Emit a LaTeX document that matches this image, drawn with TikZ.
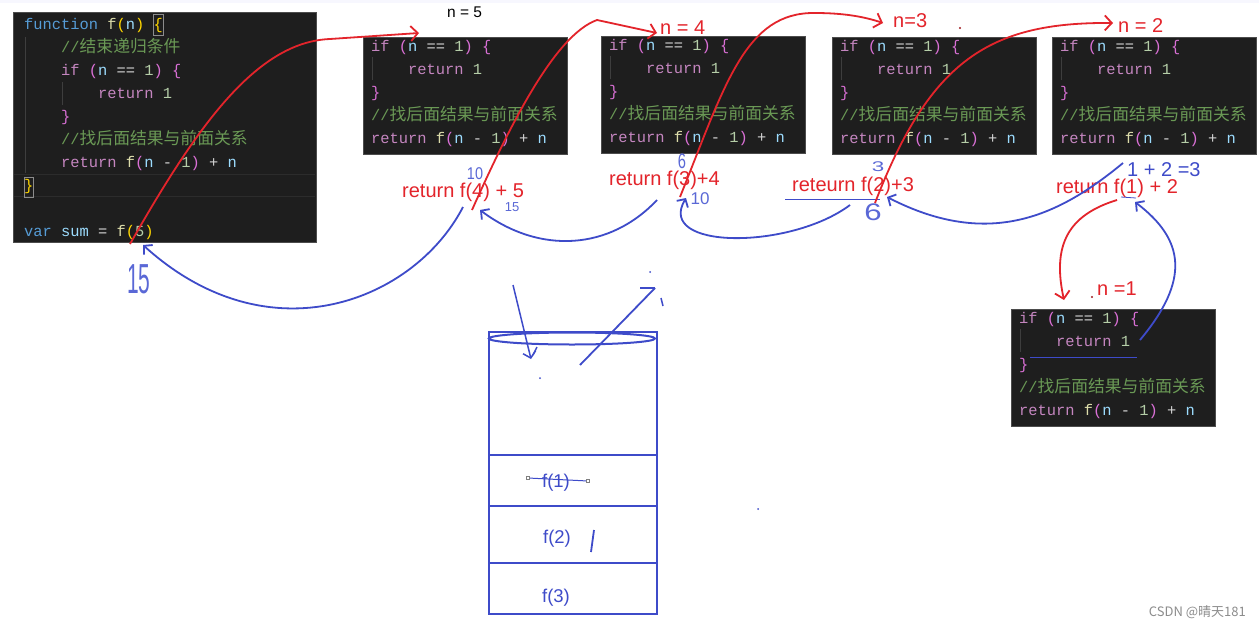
\documentclass[tikz,border=0pt]{standalone}
\usepackage{fontspec}
\setmainfont{Liberation Sans}
\setmonofont{Liberation Mono}
\newfontfamily\cjk{Noto Sans CJK SC}
\usetikzlibrary{arrows.meta,calc}
\definecolor{cbg}{HTML}{1E1E1E}
\definecolor{ckw}{HTML}{569CD6}
\definecolor{cfn}{HTML}{DCDCAA}
\definecolor{cvar}{HTML}{9CDCFE}
\definecolor{cctl}{HTML}{C586C0}
\definecolor{cnum}{HTML}{B5CEA8}
\definecolor{ccmt}{HTML}{6A9955}
\definecolor{cop}{HTML}{D4D4D4}
\definecolor{cbrg}{HTML}{FFD700}
\definecolor{cbrp}{HTML}{DA70D6}
\definecolor{pred}{HTML}{E3242B}
\definecolor{pblue}{HTML}{3E4BC9}
\definecolor{hblue}{HTML}{5A68D6}
\definecolor{hl}{HTML}{2C2C2C}
\newcommand\cKw[1]{\textcolor{ckw}{#1}}
\newcommand\cFn[1]{\textcolor{cfn}{#1}}
\newcommand\cVr[1]{\textcolor{cvar}{#1}}
\newcommand\cCtl[1]{\textcolor{cctl}{#1}}
\newcommand\cNm[1]{\textcolor{cnum}{#1}}
\newcommand\cOp[1]{\textcolor{cop}{#1}}
\newcommand\cBg[1]{\textcolor{cbrg}{#1}}
\newcommand\cBp[1]{\textcolor{cbrp}{#1}}
\newcommand\cCm[1]{\textcolor{ccmt}{//{\cjk\fontsize{16.8}{23}\selectfont #1}}}
\newcommand\smallcode[3]{%
 \node[cbox, minimum width=204, minimum height=117] (#1) at (#2,#3) {};
 \begin{scope}[shift={(#2,#3)}]
 \draw[guide] (9,20) -- (9,43);
 \node[ct] (#1-1) at (8,14.5) {\cCtl{if} \cBp{(}\cVr{n} \cOp{==} \cNm{1}\cBp{)} \cBp{\{}};
 \node[ct] (#1-2) at (45,37.5) {\cCtl{return} \cNm{1}};
 \node[ct] (#1-3) at (8,60.5) {\cBp{\}}};
 \node[ct] (#1-4) at (8,83.5) {\cCm{找后面结果与前面关系}};
 \node[ct] (#1-5) at (8,106.5) {\cCtl{return} \cFn{f}\cBp{(}\cVr{n} \cOp{-} \cNm{1}\cBp{)} \cOp{+} \cVr{n}};
 \end{scope}}
\begin{document}
\begin{tikzpicture}[x=1pt,y=-1pt,
  cbox/.style={fill=cbg, draw=black!70, line width=0.6, inner sep=0, anchor=north west},
  ct/.style={anchor=base west, inner sep=0, font=\ttfamily\fontsize{15.4}{23}\selectfont, text=cop},
  guide/.style={draw=black!60!white!45!cbg, line width=0.6},
  lab/.style={text=pred, font=\fontsize{20}{24}\selectfont, inner sep=0, anchor=base west},
  hand/.style={text=hblue, font=\fontsize{#1}{#1}\selectfont, inner sep=0},
  rarr/.style={draw=pred, line width=1.8, -{Straight Barb[length=7pt,width=15pt]}},
  barr/.style={draw=pblue, line width=1.8, -{Straight Barb[length=6pt,width=13pt]}},
  stk/.style={draw=pblue, line width=2},
  stxt/.style={text=pblue, font=\fontsize{18.5}{22}\selectfont, inner sep=0, anchor=base}]
\useasboundingbox (0,0) rectangle (1259,627);
\fill[white] (0,0) rectangle (1259,627);
\fill[black!8!blue!3!white] (0,0) rectangle (1259,3);

% ---- main code box
\node[cbox, minimum width=303, minimum height=230] (code) at (13,12) {};
\draw[hl, line width=0.8] (14,174) -- (315,174) (14,196) -- (315,196);
\draw[guide] (25,37) -- (25,173);
\draw[guide] (62,82) -- (62,105);
\draw[black!45!white, line width=0.6] (153,14) rectangle (163,35);
\draw[black!45!white, line width=0.6] (24,177) rectangle (33,197);
\node[ct] (c1) at (24,29.5) {\cKw{function} \cFn{f}\cBg{(}\cVr{n}\cBg{)} \cBg{\{}};
\node[ct] (c2) at (61,52.5) {\cCm{结束递归条件}};
\node[ct] (c3) at (61,75.5) {\cCtl{if} \cBp{(}\cVr{n} \cOp{==} \cNm{1}\cBp{)} \cBp{\{}};
\node[ct] (c4) at (98,98.5) {\cCtl{return} \cNm{1}};
\node[ct] (c5) at (61,121.5) {\cBp{\}}};
\node[ct] (c6) at (61,144.5) {\cCm{找后面结果与前面关系}};
\node[ct] (c7) at (61,167.5) {\cCtl{return} \cFn{f}\cBp{(}\cVr{n} \cOp{-} \cNm{1}\cBp{)} \cOp{+} \cVr{n}};
\node[ct] (c8) at (24,190.5) {\cBg{\}}};
\node[ct] (c9) at (24,236.5) {\cKw{var} \cVr{sum} \cOp{=} \cFn{f}\cBg{(}\cNm{5}\cBg{)}};

% ---- small code boxes
\smallcode{bA}{363}{37}
\smallcode{bB}{601}{36}
\smallcode{bC}{832}{37}
\smallcode{bD}{1052}{37}
\smallcode{bE}{1011}{309}

% ---- labels
\node[anchor=base west, inner sep=0, font=\fontsize{15.5}{18}\selectfont] (n5) at (447,17) {n = 5};
\node[lab] (n4) at (660,34) {n = 4};
\node[lab] (n3) at (893,27) {n=3};
\node[lab] (n2) at (1118,32) {n = 2};
\node[lab] (n1) at (1097,295) {n =1};
\node[lab] (L4) at (402,197) {return f(4) + 5};
\node[lab] (L3) at (609,185) {return f(3)+4};
\node[lab] (L2) at (792,191) {reteurn f(2)+3};
\node[lab] (L1) at (1056,193) {return f(1) + 2};
\node[lab, text=pblue] (sum12) at (1127,176) {1 + 2 =3};

% ---- handwritten numbers
\node[hand=42] (h15) at (139,279) {\scalebox{0.5}[1]{15}};
\node[hand=17] (h10a) at (475,174) {\scalebox{0.85}[1]{10}};
\node[hand=13] (h15b) at (512,207) {15};
\node[hand=21] (h6a) at (682,161) {\scalebox{0.7}[1]{6}};
\node[hand=17] (h10b) at (700,199) {10};
\node[hand=14] (h3) at (878,167) {\scalebox{1.6}[1]{3}};
\node[hand=24] (h6b) at (873,212) {\scalebox{1.3}[1]{6}};

% thin blue marks
\draw[pblue, line width=0.8] (785,199) -- (880,199);
\draw[pblue, line width=0.8] (1030,357) -- (1137,357);
\draw[pblue, line width=0.8] (1121,197) -- (1136,198);

% ---- red call arrows
\coordinate (r1s) at (130,244); \coordinate (r1e) at (419,33);
\coordinate (r2s) at (472,210); \coordinate (r2e) at (657,33);
\coordinate (r3s) at (680,197); \coordinate (r3e) at (883,23);
\coordinate (r4s) at (875,203); \coordinate (r4e) at (1113,23);
\coordinate (r5s) at (1117,200); \coordinate (r5e) at (1064,300);
\draw[rarr] (r1s) .. controls (195,130) and (255,42) .. (330,39) -- (r1e);
\draw[rarr] (r2s) .. controls (510,125) and (555,35) .. (597,20) -- (r2e);
\draw[rarr] (r3s) .. controls (725,85) and (745,12) .. (815,13) .. controls (845,13) and (865,17) .. (r3e);
\draw[rarr] (r4s) .. controls (930,60) and (990,22) .. (r4e);
\draw[rarr] (r5s) .. controls (1068,215) and (1052,245) .. (r5e);

% ---- blue return arrows
\coordinate (b1s) at (1140,340); \coordinate (b1e) at (1135,202);
\coordinate (b2s) at (1123,163); \coordinate (b2e) at (887,197);
\coordinate (b3s) at (850,205); \coordinate (b3e) at (686,198);
\coordinate (b4s) at (657,200); \coordinate (b4e) at (480,210);
\coordinate (b5s) at (463,207); \coordinate (b5e) at (143,245);
\draw[barr] (b1s) .. controls (1190,280) and (1185,240) .. (b1e);
\draw[barr] (b2s) .. controls (1060,215) and (990,250) .. (b2e);
\draw[barr] (b3s) .. controls (790,250) and (655,250) .. (b3e);
\draw[barr] (b4s) .. controls (610,250) and (540,255) .. (b4e);
\draw[barr] (b5s) .. controls (415,300) and (270,360) .. (b5e);

% ---- stack
\node[stk, minimum width=168, minimum height=282, inner sep=0, anchor=north west] (stack) at (488,331) {};
\draw[stk] (572,338.5) ellipse (83 and 6);
\draw[stk] (stack.west |- 0,455) -- (stack.east |- 0,455);
\draw[stk] (490,506) -- (stack.east |- 0,506);
\draw[stk] (stack.west |- 0,563) -- (stack.east |- 0,563);
\node[stxt] (f1) at (556,487) {f(1)};
\node[stxt] (f2) at (557,543) {f(2)};
\node[stxt] (f3) at (556,602) {f(3)};
\draw[pblue, line width=1] (528,478) -- (588,481);
\draw[gray, line width=0.5, fill=white] (526.5,476.5) rectangle (529.5,479.5) (586.5,479.5) rectangle (589.5,482.5);
\draw[pblue, line width=1.8] (594,530) -- (591,552);
\coordinate (sa1) at (513,285); \coordinate (sa2) at (531,359);
\draw[barr, line width=1.5] (sa1) -- (sa2);
\draw[pblue, line width=1.5] (537,347) -- (533,355);
\draw[pblue, line width=1.8] (580,365) -- (655,288);
\draw[pblue, line width=1.5] (640,288) -- (655,288);
\draw[pblue, line width=1.5] (661,298) -- (663,306);
\fill[pblue] (650,272) circle (1) (540,378) circle (1) (758,509) circle (1);
\fill[pred!70!black] (960,28) circle (1.2) (1092,297) circle (1.2);

% watermark
\node[anchor=base east, inner sep=0, text=black!45, font=\cjk\fontsize{13}{15}\selectfont] (wm) at (1246,616) {CSDN @晴天181};
\end{tikzpicture}
\end{document}
